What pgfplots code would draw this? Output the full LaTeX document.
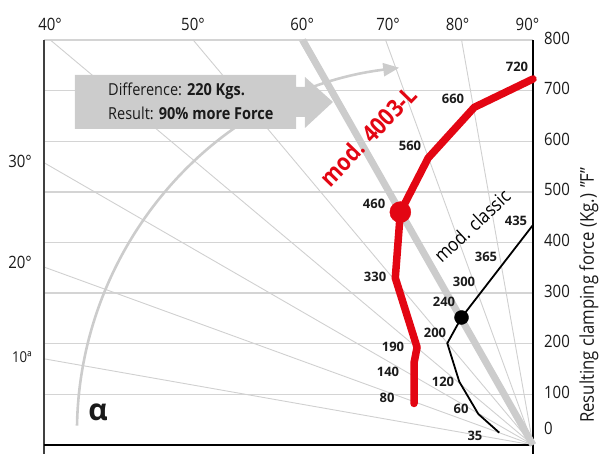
\documentclass[border=0pt]{standalone}
\usepackage{pgfplots}
\pgfplotsset{compat=1.18}
\usepackage{fontspec}
\setmainfont{Open Sans}[FakeStretch=0.88]
\newfontfamily\numfont{Open Sans}
\usetikzlibrary{arrows.meta}
\definecolor{gridc}{HTML}{D4D4D4}
\definecolor{radc}{HTML}{D0D0D0}
\definecolor{lgray}{HTML}{CCCCCC}
\definecolor{mred}{HTML}{E30613}
\definecolor{txt}{HTML}{1A1A1A}
\begin{document}
\begin{tikzpicture}
\useasboundingbox (0,0) rectangle (603pt,454pt);
\begin{axis}[at={(533pt,9pt)}, anchor=origin, x=0.50625pt, y=0.50625pt,
  xmin=-966, xmax=0, ymin=0, ymax=800, hide axis, clip=false]
% horizontal grid
\pgfplotsinvokeforeach{100,200,300,400,500,600,700,800}{
  \addplot[gridc, line width=1.3pt] coordinates {(-966,#1) (0,#1)};
}
% radial lines (angle alpha)
\addplot[radc, line width=0.9pt] coordinates {(-966,170.3) (0,0)};
\addplot[radc, line width=0.9pt] coordinates {(-966,351.6) (0,0)};
\addplot[radc, line width=0.9pt] coordinates {(-966,557.7) (0,0)};
\addplot[radc, line width=0.9pt] coordinates {(-953.4,800) (0,0)};
\addplot[radc, line width=0.9pt] coordinates {(-671.3,800) (0,0)};
\addplot[radc, line width=0.9pt] coordinates {(-461.9,800) (0,0)};
\addplot[radc, line width=0.9pt] coordinates {(-291.2,800) (0,0)};
\addplot[radc, line width=0.9pt] coordinates {(-141.1,800) (0,0)};
% axes lines
\addplot[black!75, line width=1.7pt] coordinates {(-966,-17.8) (-966,800)};
\addplot[black, line width=1.4pt] coordinates {(-966,0) (0,0)};
\addplot[black, line width=1.4pt] coordinates {(0,-17.8) (0,800)};
% arc arrow
\draw[lgray, line width=2.6pt, -{Triangle[length=16pt,width=13pt]}] (axis cs:-900.7,38.3) arc[start angle=179, end angle=97, radius=367pt];
% block arrow
\addplot[fill=lgray, draw=none] coordinates {(-904.7,730.9) (-468.1,730.9) (-468.1,707.2) (-450.4,707.2) (-450.4,726.9) (-395.1,677.5) (-450.4,626.2) (-450.4,647.9) (-468.1,647.9) (-468.1,624.2) (-904.7,624.2)} -- cycle;
% thick 60 degree line
\addplot[lgray, line width=7pt] coordinates {(-455,800) (0,0)};
% box text
\node[anchor=west, inner sep=0, text=txt, font=\fontsize{16.5}{19}\selectfont] at (axis cs:-839.5,699.3) {Difference: \textbf{220 Kgs.}};
\node[anchor=west, inner sep=0, text=txt, font=\fontsize{16.5}{19}\selectfont] at (axis cs:-839.5,655.8) {Result: \textbf{90\% more Force}};
% series mod. 4003-L
\addplot[mred, line width=7.5pt, line join=round, line cap=round] coordinates {(-235,82) (-235,162) (-229,193) (-272,330) (-262,460) (-207,567) (-116,667) (0,723)};
\addplot[mred, only marks, mark=*, mark size=10.5pt, mark options={draw=mred, fill=mred}] coordinates {(-262,460)};
% series mod. classic
\addplot[black, line width=1.8pt, line join=round] coordinates {(-66.6,24.3) (-108,61.2) (-145.6,125) (-169.3,200.9) (-141.2,251.9) (0,434.6)};
\addplot[black, only marks, mark=*, mark size=7pt] coordinates {(-141.2,251.9)};
% series names
\node[rotate=46, inner sep=0, text=mred, font=\fontsize{24}{26}\selectfont\bfseries] at (axis cs:-326,610) {mod. 4003-L};
\node[rotate=43, inner sep=0, text=black, font=\fontsize{19}{21}\selectfont] at (axis cs:-120.5,432.6) {mod. classic};
% value labels
\begin{scope}[every node/.style={inner sep=0, text=txt, font=\numfont\fontsize{13}{15}\selectfont\bfseries}]
\node at (axis cs:-31.6,746.7) {720};
\node at (axis cs:-158,683.5) {660};
\node at (axis cs:-243,590.6) {560};
\node at (axis cs:-314,476) {460};
\node at (axis cs:-312,331.9) {330};
\node at (axis cs:-276.5,193.6) {190};
\node at (axis cs:-286.4,144.2) {140};
\node at (axis cs:-288.4,92.8) {80};
\node at (axis cs:-33.6,442.5) {435};
\node at (axis cs:-92.8,371.4) {365};
\node at (axis cs:-136.3,322) {300};
\node at (axis cs:-175.8,282.5) {240};
\node at (axis cs:-193.6,221.2) {200};
\node at (axis cs:-177.8,124.4) {120};
\node at (axis cs:-142.2,71.1) {60};
\node at (axis cs:-114.6,17.8) {35};
\end{scope}
% angle labels
\begin{scope}[every node/.style={inner sep=0, text=txt, font=\fontsize{17}{19}\selectfont}]
\node at (axis cs:-954,830.6) {40°};
\node at (axis cs:-671.6,830.6) {50°};
\node at (axis cs:-456,830.6) {60°};
\node at (axis cs:-286.4,830.6) {70°};
\node at (axis cs:-149.1,830.6) {80°};
\node at (axis cs:-10.9,830.6) {90°};
\node at (axis cs:-1013.3,561) {30°};
\node at (axis cs:-1013.3,360.1) {20°};
\node[font=\fontsize{15}{17}\selectfont] at (axis cs:-1009.4,173.8) {10ª};
\end{scope}
% right tick labels
\begin{scope}[every node/.style={inner sep=0, anchor=west, text=txt, font=\fontsize{17}{19}\selectfont}]
\node at (axis cs:21.7,33.6) {0};
\node at (axis cs:21.7,104) {100};
\node at (axis cs:21.7,204) {200};
\node at (axis cs:21.7,304) {300};
\node at (axis cs:21.7,404) {400};
\node at (axis cs:21.7,504) {500};
\node at (axis cs:21.7,604) {600};
\node at (axis cs:21.7,704) {700};
\node at (axis cs:21.7,804) {800};
\end{scope}
\node[rotate=90, inner sep=0, text=txt, font=\fontsize{19}{21}\selectfont] at (axis cs:110.6,296) {Resulting clamping force (Kg.) ”F”};
% alpha
\node[inner sep=0, text=txt, font=\numfont\fontsize{30}{32}\selectfont\bfseries] at (axis cs:-859.3,65.2) {α};
\end{axis}
\end{tikzpicture}
\end{document}
